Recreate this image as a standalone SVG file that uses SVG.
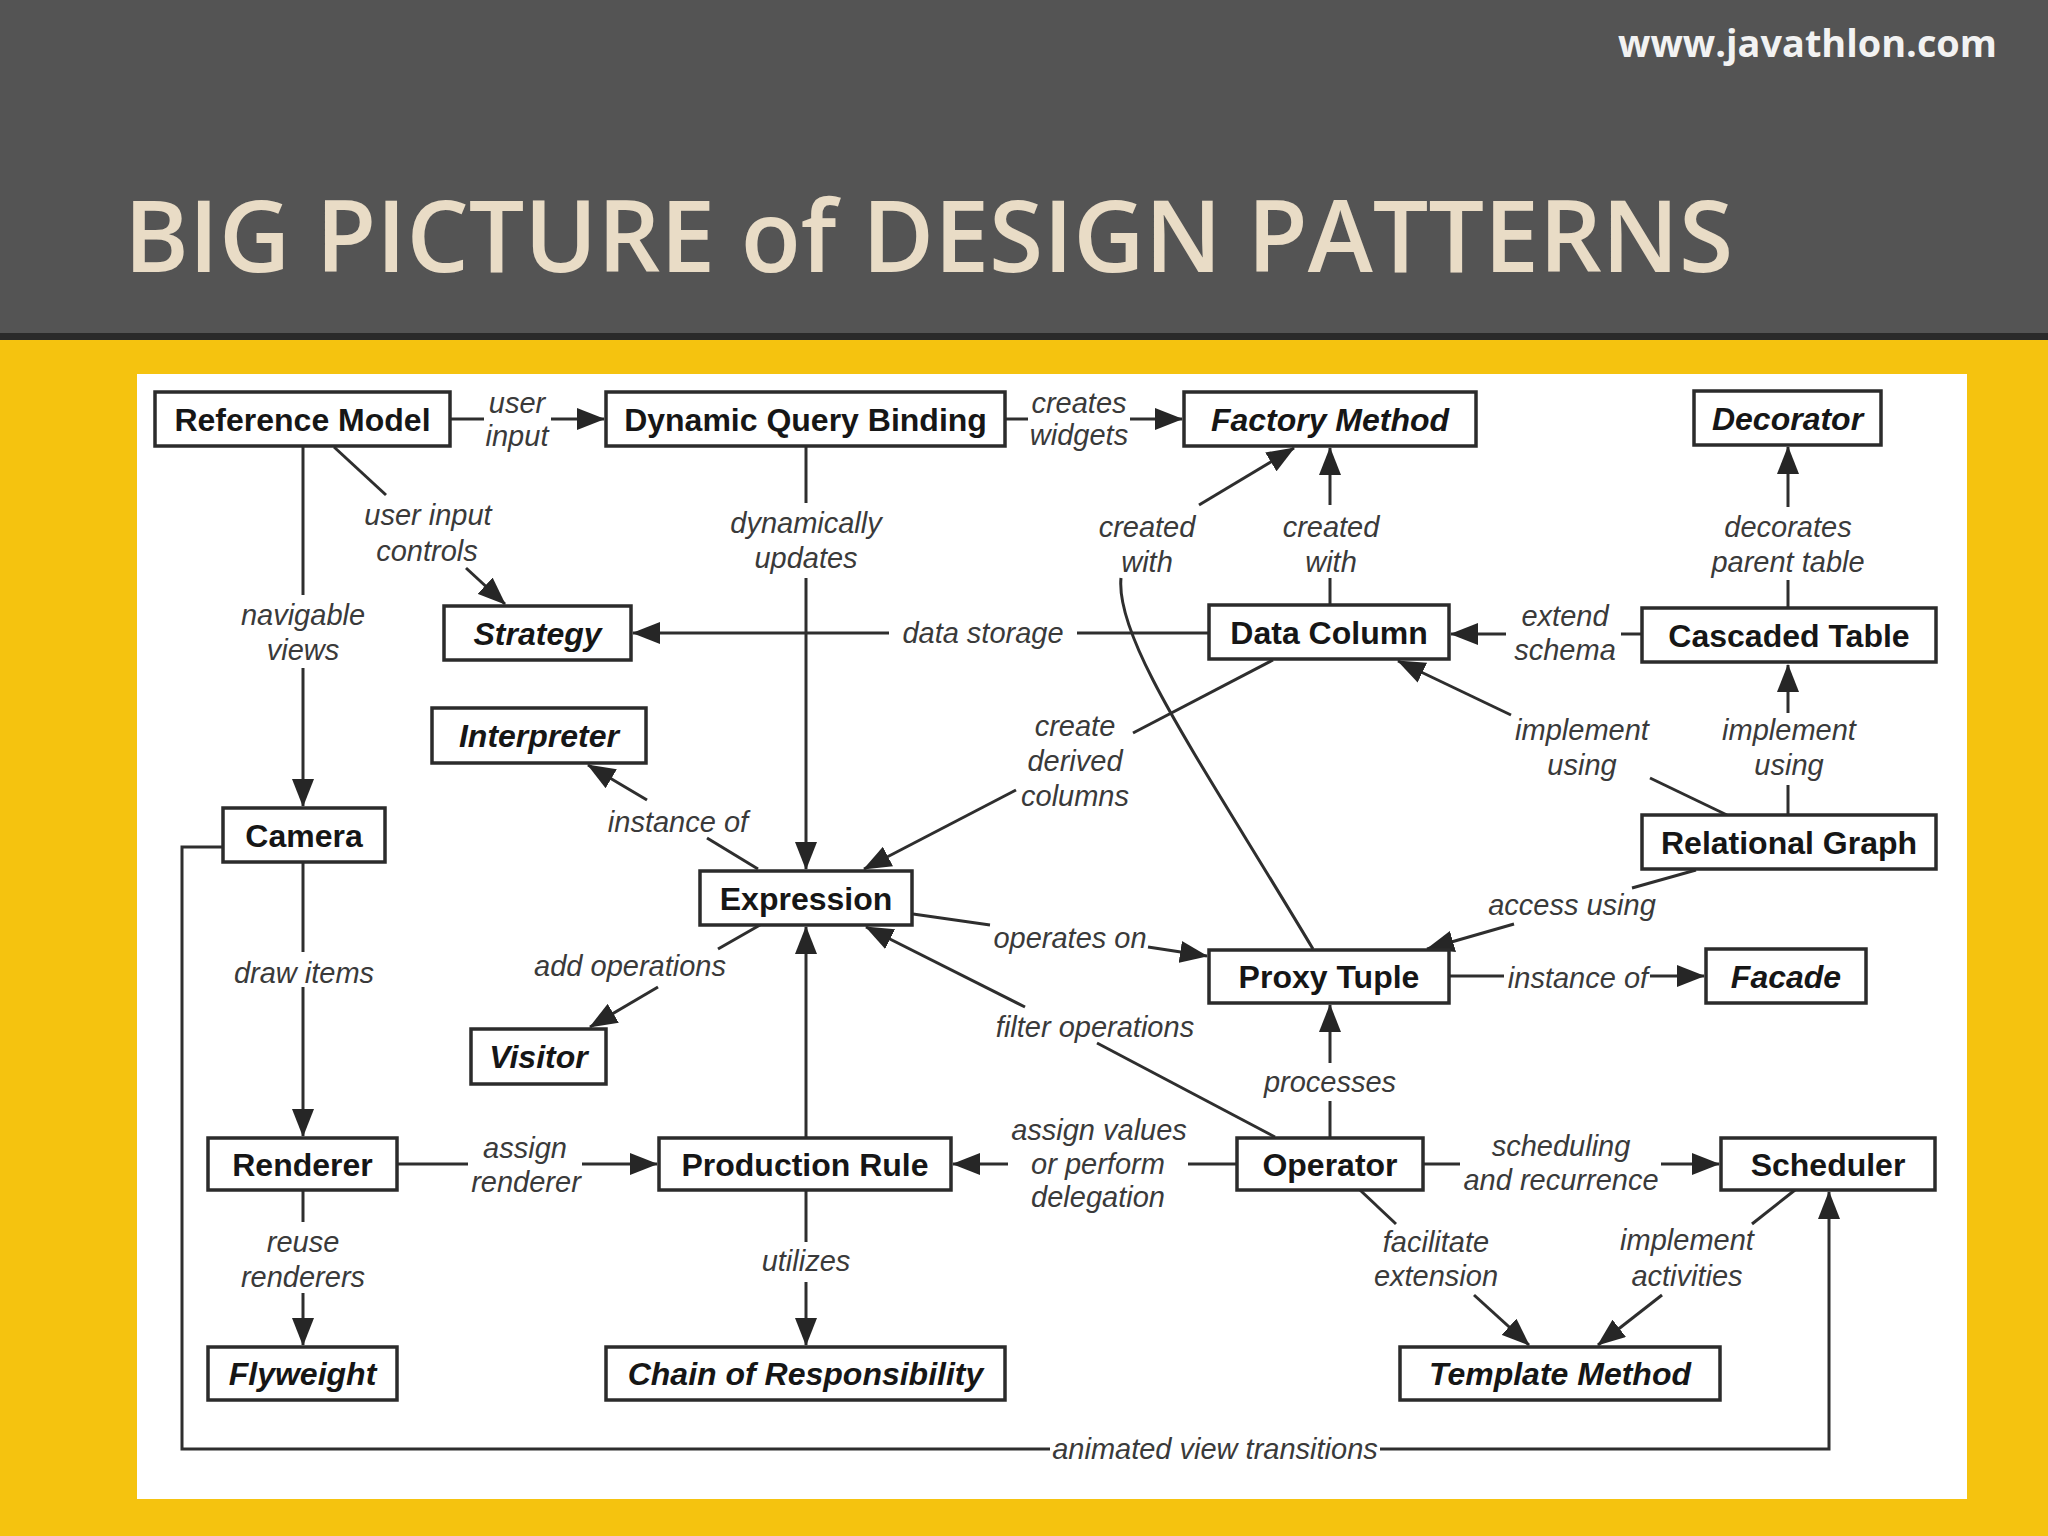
<svg xmlns="http://www.w3.org/2000/svg" width="2048" height="1536" viewBox="0 0 2048 1536">
<defs>
<marker id="ah" markerUnits="userSpaceOnUse" markerWidth="28" markerHeight="22" refX="27" refY="11" orient="auto">
<path d="M0,0 L28,11 L0,22 z" fill="#262626"/>
</marker>
<style>
.box{fill:#fff;stroke:#2b2b2b;stroke-width:3.5}
.nt{font-family:"Liberation Sans",Arial,sans-serif;font-weight:bold;font-size:32px;fill:#161616;text-anchor:middle}
.it{font-style:italic}
.ln{fill:none;stroke:#2e2e2e;stroke-width:3}
.ar{marker-end:url(#ah)}
.lb{font-family:"Liberation Sans",Arial,sans-serif;font-style:italic;font-size:29px;fill:#3a3a3a;text-anchor:middle}
</style>
</defs>
<rect x="0" y="0" width="2048" height="333" fill="#545454"/>
<rect x="0" y="333" width="2048" height="7" fill="#2a2a2a"/>
<rect x="0" y="340" width="2048" height="1196" fill="#f5c30f"/>
<rect x="137" y="374" width="1830" height="1125" fill="#ffffff"/>
<text x="124" y="272" font-family="'Open Sans',sans-serif" font-weight="600" font-size="100" fill="#e9dcc6" textLength="1609" lengthAdjust="spacingAndGlyphs">BIG PICTURE of DESIGN PATTERNS</text>
<text x="1618" y="57" font-family="'Open Sans',sans-serif" font-weight="bold" font-size="38" fill="#f2f2f2" textLength="379" lengthAdjust="spacingAndGlyphs">www.javathlon.com</text>

<g id="connectors">
<path class="ln" d="M450 419 H484"/><path class="ln ar" d="M551 419 H604"/>
<path class="ln" d="M1005 419 H1028"/><path class="ln ar" d="M1130 419 H1182"/>
<path class="ln" d="M303 446 V595"/><path class="ln ar" d="M303 668 V806"/>
<path class="ln" d="M334 447 L386 495"/><path class="ln ar" d="M466 568 L505 604"/>
<path class="ln" d="M806 446 V503"/><path class="ln ar" d="M806 578 V869"/>
<path class="ln" d="M1209 633 H1077"/><path class="ln ar" d="M889 633 H633"/>
<path class="ln" d="M1330 605 V578"/><path class="ln ar" d="M1330 505 V448"/>
<path class="ln" d="M1313 949 C1200 760 1115 640 1121 578"/><path class="ln ar" d="M1199 505 L1294 448"/>
<path class="ln" d="M1788 608 V580"/><path class="ln ar" d="M1788 507 V447"/>
<path class="ln" d="M1642 634 H1621"/><path class="ln ar" d="M1506 634 H1451"/>
<path class="ln" d="M1727 815 L1650 778"/><path class="ln ar" d="M1511 715 L1398 661"/>
<path class="ln" d="M1788 815 V785"/><path class="ln ar" d="M1788 713 V665"/>
<path class="ln" d="M1273 660 L1133 733"/><path class="ln ar" d="M1016 790 L864 869"/>
<path class="ln" d="M758 869 L707 838"/><path class="ln ar" d="M647 800 L588 765"/>
<path class="ln" d="M760 925 L718 949"/><path class="ln ar" d="M658 987 L590 1027"/>
<path class="ln" d="M913 914 L990 925"/><path class="ln ar" d="M1148 947 L1207 956"/>
<path class="ln" d="M1275 1137 L1097 1043"/><path class="ln ar" d="M1025 1007 L866 927"/>
<path class="ln" d="M1330 1138 V1101"/><path class="ln ar" d="M1330 1063 V1005"/>
<path class="ln" d="M1237 1164 H1188"/><path class="ln ar" d="M1008 1164 H953"/>
<path class="ln" d="M1423 1164 H1460"/><path class="ln ar" d="M1661 1164 H1719"/>
<path class="ln" d="M1360 1190 L1396 1224"/><path class="ln ar" d="M1474 1295 L1529 1345"/>
<path class="ln" d="M1795 1190 L1752 1224"/><path class="ln ar" d="M1662 1295 L1598 1345"/>
<path class="ln" d="M223 847 H182 V1449 H1050"/><path class="ln ar" d="M1380 1449 H1829 V1192"/>
<path class="ln" d="M303 862 V952"/><path class="ln ar" d="M303 987 V1136"/>
<path class="ln" d="M397 1164 H468"/><path class="ln ar" d="M582 1164 H657"/>
<path class="ln ar" d="M806 1138 V927"/>
<path class="ln" d="M303 1190 V1222"/><path class="ln ar" d="M303 1293 V1345"/>
<path class="ln" d="M806 1190 V1242"/><path class="ln ar" d="M806 1282 V1345"/>
<path class="ln" d="M1696 870 L1632 888"/><path class="ln ar" d="M1514 924 L1427 949"/>
<path class="ln" d="M1449 976 H1504"/><path class="ln ar" d="M1650 976 H1704"/>
</g>

<g id="labels">
<text class="lb" x="517" y="413">user</text><text class="lb" x="517" y="446">input</text>
<text class="lb" x="1079" y="413">creates</text><text class="lb" x="1079" y="445">widgets</text>
<text class="lb" x="303" y="625">navigable</text><text class="lb" x="303" y="660">views</text>
<text class="lb" x="428" y="525">user input</text><text class="lb" x="427" y="561">controls</text>
<text class="lb" x="806" y="533">dynamically</text><text class="lb" x="806" y="568">updates</text>
<text class="lb" x="983" y="643">data storage</text>
<text class="lb" x="1331" y="537">created</text><text class="lb" x="1331" y="572">with</text>
<text class="lb" x="1147" y="537">created</text><text class="lb" x="1147" y="572">with</text>
<text class="lb" x="1788" y="537">decorates</text><text class="lb" x="1788" y="572">parent table</text>
<text class="lb" x="1565" y="626">extend</text><text class="lb" x="1565" y="660">schema</text>
<text class="lb" x="1582" y="740">implement</text><text class="lb" x="1582" y="775">using</text>
<text class="lb" x="1789" y="740">implement</text><text class="lb" x="1789" y="775">using</text>
<text class="lb" x="1075" y="736">create</text><text class="lb" x="1075" y="771">derived</text><text class="lb" x="1075" y="806">columns</text>
<text class="lb" x="678" y="832">instance of</text>
<text class="lb" x="630" y="976">add operations</text>
<text class="lb" x="1070" y="948">operates on</text>
<text class="lb" x="1095" y="1037">filter operations</text>
<text class="lb" x="1330" y="1092">processes</text>
<text class="lb" x="1099" y="1140">assign values</text><text class="lb" x="1098" y="1174">or perform</text><text class="lb" x="1098" y="1207">delegation</text>
<text class="lb" x="1561" y="1156">scheduling</text><text class="lb" x="1561" y="1190">and recurrence</text>
<text class="lb" x="1436" y="1252">facilitate</text><text class="lb" x="1436" y="1286">extension</text>
<text class="lb" x="1687" y="1250">implement</text><text class="lb" x="1687" y="1286">activities</text>
<text class="lb" x="1215" y="1459">animated view transitions</text>
<text class="lb" x="304" y="983">draw items</text>
<text class="lb" x="525" y="1158">assign</text><text class="lb" x="526" y="1192">renderer</text>
<text class="lb" x="303" y="1252">reuse</text><text class="lb" x="303" y="1287">renderers</text>
<text class="lb" x="806" y="1271">utilizes</text>
<text class="lb" x="1572" y="915">access using</text>
<text class="lb" x="1578" y="988">instance of</text>
</g>

<g id="n-reference-model"><rect class="box" x="155" y="392" width="295" height="54"/><text class="nt" x="302.5" y="430.5">Reference Model</text></g>
<g id="n-dynamic-query-binding"><rect class="box" x="606" y="392" width="399" height="54"/><text class="nt" x="805.5" y="430.5">Dynamic Query Binding</text></g>
<g id="n-factory-method"><rect class="box" x="1184" y="392" width="292" height="54"/><text class="nt it" x="1330" y="430.5">Factory Method</text></g>
<g id="n-decorator"><rect class="box" x="1694" y="391" width="187" height="54"/><text class="nt it" x="1787.5" y="429.5">Decorator</text></g>
<g id="n-strategy"><rect class="box" x="444" y="606" width="187" height="54"/><text class="nt it" x="537.5" y="644.5">Strategy</text></g>
<g id="n-data-column"><rect class="box" x="1209" y="605" width="240" height="54"/><text class="nt" x="1329" y="643.5">Data Column</text></g>
<g id="n-cascaded-table"><rect class="box" x="1642" y="608" width="294" height="54"/><text class="nt" x="1789" y="646.5">Cascaded Table</text></g>
<g id="n-interpreter"><rect class="box" x="432" y="708" width="214" height="55"/><text class="nt it" x="539" y="747">Interpreter</text></g>
<g id="n-camera"><rect class="box" x="223" y="808" width="162" height="54"/><text class="nt" x="304" y="846.5">Camera</text></g>
<g id="n-expression"><rect class="box" x="700" y="871" width="212" height="54"/><text class="nt" x="806" y="909.5">Expression</text></g>
<g id="n-relational-graph"><rect class="box" x="1642" y="815" width="294" height="54"/><text class="nt" x="1789" y="853.5">Relational Graph</text></g>
<g id="n-proxy-tuple"><rect class="box" x="1209" y="950" width="240" height="53"/><text class="nt" x="1329" y="988">Proxy Tuple</text></g>
<g id="n-facade"><rect class="box" x="1706" y="949" width="160" height="54"/><text class="nt it" x="1786" y="987.5">Facade</text></g>
<g id="n-visitor"><rect class="box" x="471" y="1029" width="135" height="55"/><text class="nt it" x="538.5" y="1068">Visitor</text></g>
<g id="n-renderer"><rect class="box" x="208" y="1138" width="189" height="52"/><text class="nt" x="302.5" y="1175.5">Renderer</text></g>
<g id="n-production-rule"><rect class="box" x="659" y="1138" width="292" height="52"/><text class="nt" x="805" y="1175.5">Production Rule</text></g>
<g id="n-operator"><rect class="box" x="1237" y="1138" width="186" height="52"/><text class="nt" x="1330" y="1175.5">Operator</text></g>
<g id="n-scheduler"><rect class="box" x="1721" y="1138" width="214" height="52"/><text class="nt" x="1828" y="1175.5">Scheduler</text></g>
<g id="n-flyweight"><rect class="box" x="208" y="1347" width="189" height="53"/><text class="nt it" x="302.5" y="1385">Flyweight</text></g>
<g id="n-chain-of-responsibility"><rect class="box" x="606" y="1347" width="399" height="53"/><text class="nt it" x="805.5" y="1385">Chain of Responsibility</text></g>
<g id="n-template-method"><rect class="box" x="1400" y="1347" width="320" height="53"/><text class="nt it" x="1560" y="1385">Template Method</text></g>
</svg>
